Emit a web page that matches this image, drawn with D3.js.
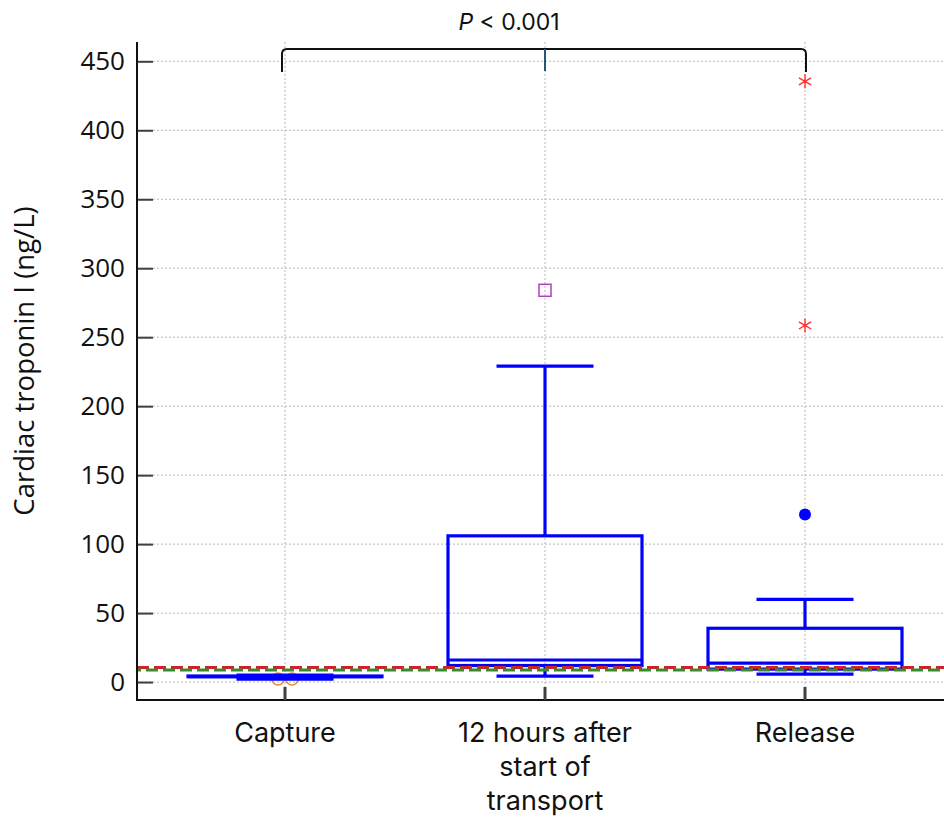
<!DOCTYPE html>
<html lang="en">
<head>
    <meta charset="UTF-8">
    <title>Cardiac troponin I box plot</title>
    <script src="https://d3js.org/d3.v7.min.js"></script>
    <style>
        body { margin: 0; background: #fff; }
        svg { display: block; font-family: "Open Sans", "Noto Sans", sans-serif; }
        .grid line { stroke: #b8b8b8; stroke-width: 1; stroke-dasharray: 2 2; }
    </style>
</head>
<body>
<div id="chart-container"></div>
<script>
    // Data
    const categories = ["Capture", "12 hours after start of transport", "Release"];
    const categoryLines = [["Capture"], ["12 hours after", "start of", "transport"], ["Release"]];
    const whiskerLow = [2.2, 4.3, 5.8];
    const q1 = [3.9, 12, 9.4];
    const median = [4, 16, 13.8];
    const q3 = [4.4, 106, 39];
    const whiskerHigh = [5, 229, 60];
    // outliers: category index, value, marker type, horizontal nudge
    const outlierCat = [0, 0, 1, 2, 2, 2];
    const outlierVal = [2.2, 2.2, 284, 121.5, 258.5, 435.5];
    const outlierType = ["circle", "circle", "square", "dot", "star", "star"];
    const outlierNudge = [-7, 7, 0, 0, 0, 0];
    const refLines = [10.5, 8.8];
    const refColors = ["#d0202a", "#3a8a2a"];
    const yTicks = [0, 50, 100, 150, 200, 250, 300, 350, 400, 450];

    const width = 944, height = 818;
    const plotLeft = 137, plotRight = 944, plotTop = 42, plotBottom = 700;

    const svg = d3.select("#chart-container").append("svg")
        .attr("width", width)
        .attr("height", height);

    const y = d3.scaleLinear().domain([-13, 464]).range([plotBottom, plotTop]);
    const x = d3.scalePoint().domain(categories).range([285, 805]);
    const boxW = 194, capW = 97;

    // grid
    const grid = svg.append("g").attr("class", "grid");
    grid.selectAll(".hg").data(yTicks).enter().append("line")
        .attr("x1", plotLeft).attr("x2", plotRight)
        .attr("y1", d => y(d)).attr("y2", d => y(d));
    grid.selectAll(".vg").data(categories).enter().append("line")
        .attr("x1", d => x(d)).attr("x2", d => x(d))
        .attr("y1", plotTop).attr("y2", plotBottom);

    // capture circles sit under the box
    const outliers = outlierVal.map((v, i) => ({
        cat: categories[outlierCat[i]], v, type: outlierType[i], dx: outlierNudge[i]
    }));
    svg.selectAll(".oc").data(outliers.filter(d => d.type === "circle")).enter().append("circle")
        .attr("cx", d => x(d.cat) + d.dx).attr("cy", d => y(d.v))
        .attr("r", 6).attr("fill", "none").attr("stroke", "#f08a30").attr("stroke-width", 1.5);

    // boxes
    const boxes = categories.map((c, i) => ({ c, lo: whiskerLow[i], q1: q1[i], med: median[i], q3: q3[i], hi: whiskerHigh[i] }));
    const bg = svg.append("g").attr("stroke", "#0000ff").attr("stroke-width", 3.2).attr("fill", "none");
    boxes.forEach(b => {
        const cx = x(b.c);
        bg.append("line").attr("x1", cx).attr("x2", cx).attr("y1", y(b.q3)).attr("y2", y(b.hi));
        bg.append("line").attr("x1", cx).attr("x2", cx).attr("y1", y(b.q1)).attr("y2", y(b.lo));
        bg.append("line").attr("x1", cx - capW / 2).attr("x2", cx + capW / 2).attr("y1", y(b.hi)).attr("y2", y(b.hi));
        bg.append("line").attr("x1", cx - capW / 2).attr("x2", cx + capW / 2).attr("y1", y(b.lo)).attr("y2", y(b.lo));
        bg.append("rect").attr("x", cx - boxW / 2).attr("width", boxW)
            .attr("y", y(b.q3)).attr("height", Math.max(y(b.q1) - y(b.q3), 0.5));
        bg.append("line").attr("x1", cx - boxW / 2).attr("x2", cx + boxW / 2).attr("y1", y(b.med)).attr("y2", y(b.med));
    });

    // other outliers
    outliers.forEach(d => {
        const px = x(d.cat) + d.dx, py = y(d.v);
        if (d.type === "square") {
            svg.append("rect").attr("x", px - 6).attr("y", py - 6).attr("width", 12).attr("height", 12)
                .attr("fill", "none").attr("stroke", "#b040c0").attr("stroke-width", 1.5);
        } else if (d.type === "dot") {
            svg.append("circle").attr("cx", px).attr("cy", py).attr("r", 6).attr("fill", "#0000ff");
        } else if (d.type === "star") {
            svg.append("path")
                .attr("d", d3.symbol().type(d3.symbolAsterisk).size(140)())
                .attr("transform", `translate(${px},${py})`)
                .attr("stroke", "#ff3030").attr("stroke-width", 1.4).attr("fill", "none");
        }
    });

    // reference dashed lines
    refLines.forEach((v, i) => {
        svg.append("line")
            .attr("x1", plotLeft).attr("x2", plotRight)
            .attr("y1", y(v)).attr("y2", y(v))
            .attr("stroke", refColors[i]).attr("stroke-width", 3)
            .attr("stroke-dasharray", "12 5")
            .attr("stroke-dashoffset", i * 8);
    });

    // y axis
    const yAxis = svg.append("g").attr("transform", `translate(${plotLeft},0)`)
        .call(d3.axisLeft(y).tickValues(yTicks).tickSizeInner(-16).tickSizeOuter(0).tickPadding(12));
    yAxis.select(".domain").remove();
    yAxis.selectAll(".tick line").attr("stroke", "#404040").attr("stroke-width", 2);
    yAxis.selectAll(".tick text").attr("font-size", 26).attr("fill", "#111")
        .attr("font-family", "\"Open Sans\", \"Noto Sans\", sans-serif");
    svg.append("line").attr("x1", plotLeft).attr("x2", plotLeft).attr("y1", plotTop).attr("y2", plotBottom + 1)
        .attr("stroke", "#111").attr("stroke-width", 2);

    // x axis
    svg.append("line").attr("x1", plotLeft).attr("x2", plotRight).attr("y1", plotBottom).attr("y2", plotBottom)
        .attr("stroke", "#111").attr("stroke-width", 2);
    svg.selectAll(".xt").data(categories).enter().append("line")
        .attr("x1", d => x(d)).attr("x2", d => x(d))
        .attr("y1", plotBottom).attr("y2", plotBottom - 13)
        .attr("stroke", "#404040").attr("stroke-width", 3);
    categories.forEach((c, i) => {
        const t = svg.append("text").attr("text-anchor", "middle").attr("font-size", 27).attr("fill", "#111")
            .attr("font-family", "Inter, \"Open Sans\", sans-serif");
        categoryLines[i].forEach((ln, j) => {
            t.append("tspan").attr("x", x(c)).attr("y", 742 + j * 34).text(ln);
        });
    });

    // y label
    svg.append("text")
        .attr("transform", `translate(34,361) rotate(-90)`)
        .attr("text-anchor", "middle")
        .attr("font-size", 27.5).attr("fill", "#111")
        .text("Cardiac troponin I (ng/L)");

    // significance bracket
    const bx1 = x(categories[0]) - 3, bx2 = x(categories[2]) + 1, by = 49;
    svg.append("path")
        .attr("d", `M${bx1},${by + 23} V${by + 5} Q${bx1},${by} ${bx1 + 5},${by} H${bx2 - 5} Q${bx2},${by} ${bx2},${by + 5} V${by + 23}`)
        .attr("fill", "none").attr("stroke", "#111").attr("stroke-width", 2);
    svg.append("line").attr("x1", x(categories[1])).attr("x2", x(categories[1]))
        .attr("y1", by).attr("y2", by + 22)
        .attr("stroke", "#1f5a7a").attr("stroke-width", 2);
    const pt = svg.append("text").attr("x", 509).attr("y", 30).attr("text-anchor", "middle")
        .attr("font-size", 23).attr("fill", "#111")
        .attr("font-family", "Inter, \"Open Sans\", sans-serif");
    pt.append("tspan").attr("font-style", "italic").text("P");
    pt.append("tspan").text(" < 0.001");
</script>
</body>
</html>
